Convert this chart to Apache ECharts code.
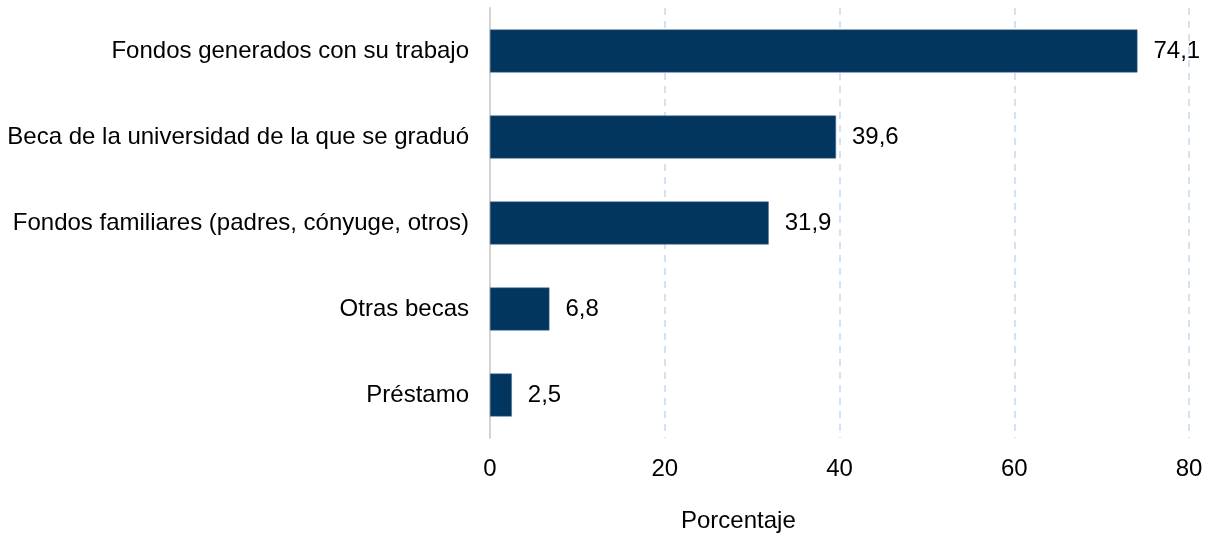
<!DOCTYPE html>
<html style="height: 100%">
    <head>
        <meta charset="utf-8">
    </head>
    <body style="height: 100%; margin: 0">
        <div id="container" style="height: 536px; width: 1210px;"></div>
        <script type="text/javascript" src="https://cdn.jsdelivr.net/npm/echarts@6/dist/echarts.min.js"></script>
        <script type="text/javascript">
var dom = document.getElementById("container");
var myChart = echarts.init(dom);
var option;

const categories = [
    'Fondos generados con su trabajo',
    'Beca de la universidad de la que se graduó',
    'Fondos familiares (padres, cónyuge, otros)',
    'Otras becas',
    'Préstamo'
];
const values = [74.1, 39.6, 31.9, 6.8, 2.5];
const xTicks = [0, 20, 40, 60, 80];

const font = '"Liberation Sans", Arial, sans-serif';

option = {
    animation: false,
    grid: {
        left: 490,
        right: 21,
        top: 8,
        bottom: 98
    },
    xAxis: {
        type: 'value',
        min: xTicks[0],
        max: xTicks[xTicks.length - 1],
        interval: 20,
        axisLine: { show: false },
        axisTick: { show: false },
        axisLabel: {
            margin: 19,
            color: '#000',
            fontSize: 24,
            fontFamily: font
        },
        splitLine: {
            show: true,
            lineStyle: {
                color: '#c4dcf0',
                type: [7, 6],
                width: 1.5
            }
        }
    },
    yAxis: {
        type: 'category',
        inverse: true,
        data: categories,
        axisLine: { show: true, lineStyle: { color: '#d4d4d4', width: 2 } },
        axisTick: { show: false },
        axisLabel: {
            margin: 21,
            color: '#000',
            fontSize: 24,
            fontFamily: font
        }
    },
    series: [
        {
            type: 'bar',
            data: values,
            barWidth: '50%',
            itemStyle: {
                color: '#02365f',
                borderColor: '#4a6f92',
                borderWidth: 0.5
            },
            label: {
                show: true,
                position: 'right',
                distance: 16,
                color: '#000',
                fontSize: 24,
                fontFamily: font,
                formatter: function (p) {
                    return p.value.toFixed(1).replace('.', ',');
                }
            }
        }
    ],
    graphic: {
        elements: [
            {
                type: 'text',
                left: 681,
                top: 509,
                style: {
                    text: 'Porcentaje',
                    font: '24px ' + font,
                    fill: '#000'
                }
            }
        ]
    }
};

if (option && typeof option === 'object') {
    myChart.setOption(option);
}
        </script>
    </body>
</html>
